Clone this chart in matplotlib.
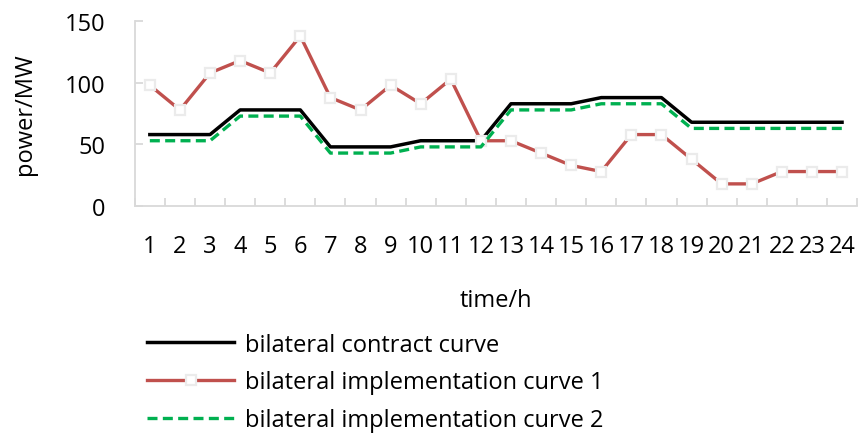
import numpy as np
import matplotlib.pyplot as plt
from matplotlib.ticker import FixedLocator

plt.rcParams['font.family'] = ['Open Sans', 'DejaVu Sans']

hours = list(range(1, 25))
contract = [58, 58, 58, 78, 78, 78, 48, 48, 48, 53, 53, 53,
            83, 83, 83, 88, 88, 88, 68, 68, 68, 68, 68, 68]
impl_1 = [98, 78, 108, 118, 108, 138, 88, 78, 98, 83, 103, 53,
          53, 43, 33, 28, 58, 58, 38, 18, 18, 28, 28, 28]
impl_2 = [53, 53, 53, 73, 73, 73, 43, 43, 43, 48, 48, 48,
          78, 78, 78, 83, 83, 83, 63, 63, 63, 63, 63, 63]
y_ticks = [0, 50, 100, 150]

fig = plt.figure(figsize=(8.64, 4.35), dpi=100)
ax = fig.add_axes([0.156, 0.524, 0.836, 0.425])

ax.plot(hours, contract, color='black', lw=2.5, label='bilateral contract curve')
ax.plot(hours, impl_1, color='#c0504d', lw=2.4, marker='s', ms=7,
        mfc='white', mec='#ebebeb', mew=1.6, label='bilateral implementation curve 1')
ax.plot(hours, impl_2, color='#00b050', lw=2.4, ls=(0, (3, 1.6)),
        label='bilateral implementation curve 2')

ax.set_xlim(0.5, 24.5)
ax.set_ylim(0, 150)
ax.set_xticks(hours)
ax.set_xticklabels([str(h) for h in hours])
ax.xaxis.set_minor_locator(FixedLocator(np.arange(0.5, 25, 1)))
ax.set_yticks(y_ticks)

for s in ['top', 'right']:
    ax.spines[s].set_visible(False)
for s in ['left', 'bottom']:
    ax.spines[s].set_color('#d9d9d9')
    ax.spines[s].set_linewidth(1.3)

ax.tick_params(axis='x', which='major', length=0, pad=20, labelsize=17)
ax.tick_params(axis='x', which='minor', direction='in', length=6,
               color='#d9d9d9', width=1.3)
ax.tick_params(axis='y', direction='in', length=6, color='#d9d9d9',
               width=1.3, pad=21, labelsize=17)

ax.set_ylabel('power/MW', fontsize=17, labelpad=20)
ax.set_xlabel('time/h', fontsize=17, labelpad=22)

fig.legend(loc='upper left', bbox_to_anchor=(0.159, 0.255), frameon=False,
           fontsize=17, handlelength=3.7, handletextpad=0.45, labelspacing=0.58,
           borderaxespad=0)

fig.savefig('out.png', dpi=100)
